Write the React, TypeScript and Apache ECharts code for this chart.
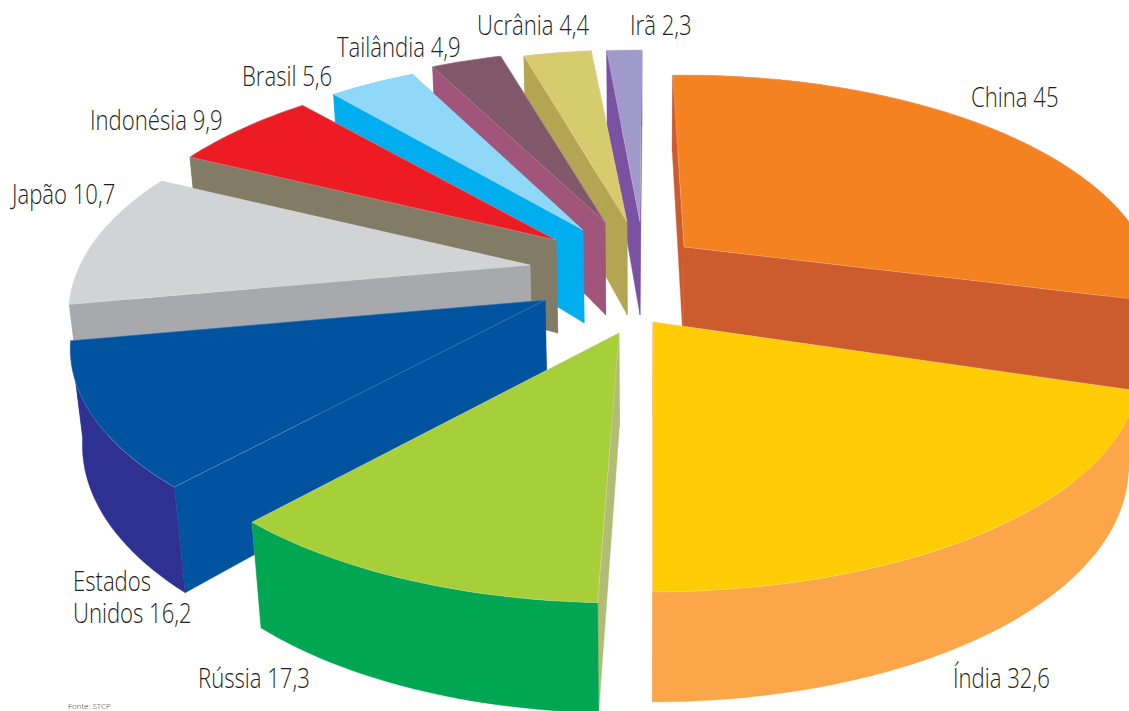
import React, { useEffect, useRef } from "react";
import * as echarts from "echarts";

const categories = ["China", "Índia", "Rússia", "Estados Unidos", "Japão", "Indonésia", "Brasil", "Tailândia", "Ucrânia", "Irã"];
const values = [45, 32.6, 17.3, 16.2, 10.7, 9.9, 5.6, 4.9, 4.4, 2.3];
const topColors = ["#F58220", "#FFCC05", "#A7CF3A", "#00539F", "#D1D3D4", "#ED1C24", "#8FD8F8", "#80586A", "#D6CC6E", "#A09ACB"];
const radialWallColors = ["#CC5C2D", "#FBA648", "#B1BC74", "#00539F", "#A7A9AC", "#827B66", "#00AEEF", "#A2557A", "#B3A552", "#7B52A1"];
const arcWallColors = ["#CC5C2D", "#FBA648", "#00A651", "#2E3192", "#A7A9AC", "#827B66", "#00AEEF", "#A2557A", "#B3A552", "#7B52A1"];
// Exploded offset of each slice tip from the pie's centre, in pixels.
const explodeX = [44, 13, -21, -95, -110, -84, -57, -35, -13, 0];
const explodeY = [-43, 32, 43, 10, -25, -50, -60, -68, -68, -68];
const widthScale = [1.04, 1.07, 1.045, 1.045, 1.015, 1.005, 1.0, 1.0, 1.0, 1.0];
// The original artwork's hand-drawn departure from true angles at each slice's edges, in degrees.
const startSkew = [-1.7, -1.0, -5.56, -7.5, -9, 1.2, 0.5, 0.3, -0.2, 0.3];
const endSkew = [-4.5, -7.6, -8.1, -9.3, 1.5, 0, 0.6, -0.4, -0.1, 0.3];
const drawOrder = [9, 8, 7, 6, 5, 4, 0, 3, 2, 1];

const labelLines = [["China 45"], ["Índia 32,6"], ["Rússia 17,3"], ["Estados", "Unidos 16,2"], ["Japão 10,7"], ["Indonésia 9,9"], ["Brasil 5,6"], ["Tailândia 4,9"], ["Ucrânia 4,4"], ["Irã 2,3"]];
const labelX = [971, 953, 198, 73, 12, 90, 242, 337, 477, 630];
const labelY = [96, 677, 677, 580, 193, 119, 75, 46, 24, 24];
const sourceNote = "Fonte: STCP";

const CX = 640, CY = 290, A = 443, B = 210, K = 0.222;
const total = values.reduce((s, v) => s + v, 0);

function sliceAngles(i: number): [number, number] {
  let c = 0;
  for (let k = 0; k < i; k++) c += values[k];
  return [(c / total) * 360 + startSkew[i], ((c + values[i]) / total) * 360 + endSkew[i]];
}

function project(i: number, r: number, deg: number) {
  const t = (deg * Math.PI) / 180;
  const x = r * Math.sin(t);
  const y = r * Math.cos(t);
  const w = 1 + K * y;
  const X = CX + explodeX[i] + (A * widthScale[i] * x) / w;
  const Y = CY + explodeY[i] - (B * y) / w;
  const d = 93 - 17 * y;
  return {
    top: [X, Y],
    bottom: [X + ((CX - X) * 0.022 * d) / 100, Y + d],
  };
}

function renderSlice(_p: any, api: any) {
  const i = api.value(0);
  const [a0, a1] = sliceAngles(i);
  const n = Math.max(4, Math.ceil((a1 - a0) / 1.5));
  const arc: any[] = [];
  for (let k = 0; k <= n; k++) arc.push(project(i, 1, a0 + ((a1 - a0) * k) / n));
  const tip = project(i, 0, 0);
  const first = arc[0], last = arc[arc.length - 1];
  const wall = (points: number[][], fill: string) => ({
    type: "polygon",
    shape: { points },
    style: { fill, stroke: fill, lineWidth: 0.4 },
  });
  return {
    type: "group",
    children: [
      wall([tip.top, first.top, first.bottom, tip.bottom], radialWallColors[i]),
      wall([tip.top, last.top, last.bottom, tip.bottom], radialWallColors[i]),
      wall([...arc.map((p) => p.top), ...arc.map((p) => p.bottom).reverse()], arcWallColors[i]),
      {
        type: "polygon",
        shape: { points: [tip.top, ...arc.map((p) => p.top)] },
        style: { fill: topColors[i], stroke: "rgba(255,255,255,0.35)", lineWidth: 0.6 },
      },
    ],
  };
}

const LABEL_FONT = "Open Sans";

export default function App() {
  const ref = useRef<HTMLDivElement>(null);
  useEffect(() => {
    document.body.style.margin = "0";
    const chart = echarts.init(ref.current!, null, { renderer: "svg" });
    const labels: any[] = [];
    labelLines.forEach((lines, i) => {
      lines.forEach((line, j) => {
        labels.push({
          type: "text",
          x: labelX[i],
          y: labelY[i] + j * 32,
          scaleX: 0.79,
          style: { text: line, font: `300 28px "${LABEL_FONT}"`, fill: "#231F20", textVerticalAlign: "middle", textAlign: "left" },
          silent: true,
        });
      });
    });
    labels.push({
      type: "text",
      x: 68,
      y: 705,
      style: { text: sourceNote, font: `300 8px "${LABEL_FONT}"`, fill: "#333", textVerticalAlign: "middle" },
      silent: true,
    });
    chart.setOption({
      animation: false,
      backgroundColor: "#fff",
      graphic: { elements: labels },
      series: [
        {
          type: "custom",
          coordinateSystem: "none",
          silent: true,
          renderItem: renderSlice,
          data: drawOrder.map((i) => ({ name: categories[i], value: [i, values[i]] })),
        },
      ],
    });
    return () => chart.dispose();
  }, []);
  return <div ref={ref} style={{ position: "fixed", left: 0, top: 0, width: 1129, height: 711 }} />;
}
